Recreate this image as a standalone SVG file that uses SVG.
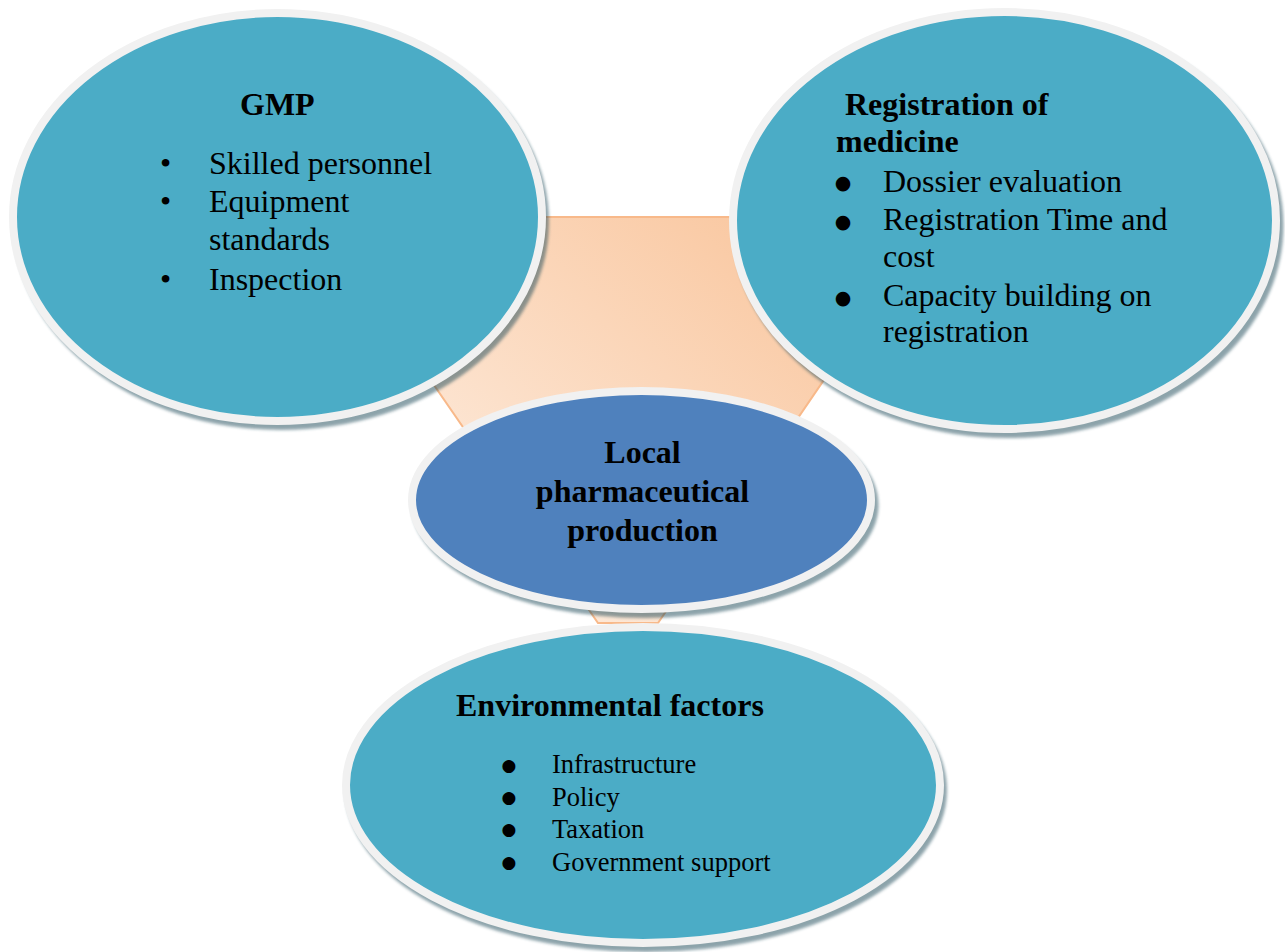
<svg xmlns="http://www.w3.org/2000/svg" width="1285" height="952" viewBox="0 0 1285 952">
  <defs>
    <linearGradient id="hexFill" x1="1" y1="0" x2="0" y2="1">
      <stop offset="0" stop-color="#F9C399"/>
      <stop offset="1" stop-color="#FEF2E8"/>
    </linearGradient>
    <filter id="soft" x="-5%" y="-5%" width="110%" height="110%">
      <feGaussianBlur stdDeviation="1.5"/>
    </filter>
  </defs>
  <style>
    .shadow { fill: #1F4A58; opacity: 0.5; filter: url(#soft); }
    .outer { fill: #4BACC6; stroke: #F1F1F1; stroke-width: 8; }
    .core { fill: #4F81BD; stroke: #F1F1F1; stroke-width: 8; }
    text { font-family: "Liberation Serif", "Times New Roman", serif; fill: #000; }
    .t32 { font-size: 32px; }
    .t26 { font-size: 26.5px; }
    .disc { font-family: "DejaVu Sans", sans-serif; text-anchor: middle; }
    .disc19 { font-size: 19px; }
    .disc17 { font-size: 17px; }
    .b { font-weight: bold; }
    .mid { text-anchor: middle; }
  </style>

  <!-- hexagonal backdrop behind the bubbles -->
  <g id="connectors">
    <polygon points="480,217 776,217 858,330 658,623 598,623 396,330" fill="url(#hexFill)" stroke="#F8B98A" stroke-width="2"/>
  </g>

  <g id="node-gmp">
    <ellipse class="shadow" cx="281" cy="222" rx="268" ry="208"/>
    <ellipse class="outer" cx="277.5" cy="217" rx="264.5" ry="204"/>
    <text class="t32 b" x="240" y="115">GMP</text>
    <text class="t32" x="160" y="174">•</text>
    <text class="t32" x="160" y="212">•</text>
    <text class="t32" x="160" y="290">•</text>
    <text class="t32" x="209" y="174">Skilled personnel</text>
    <text class="t32" x="209" y="212">Equipment</text>
    <text class="t32" x="209" y="250">standards</text>
    <text class="t32" x="209" y="290">Inspection</text>
  </g>

  <g id="node-registration">
    <ellipse class="shadow" cx="1008" cy="225.5" rx="275.5" ry="212.5"/>
    <ellipse class="outer" cx="1004.5" cy="220.5" rx="271.5" ry="208.5"/>
    <text class="t32 b" x="845" y="115">Registration of</text>
    <text class="t32 b" x="836" y="152">medicine</text>
    <text class="disc disc19" x="843" y="189">●</text>
    <text class="disc disc19" x="843" y="228">●</text>
    <text class="disc disc19" x="843" y="304">●</text>
    <text class="t32" x="883" y="192">Dossier evaluation</text>
    <text class="t32" x="883" y="230">Registration Time and</text>
    <text class="t32" x="883" y="267">cost</text>
    <text class="t32" x="883" y="306">Capacity building on</text>
    <text class="t32" x="883" y="342">registration</text>
  </g>

  <g id="node-environment">
    <ellipse class="shadow" cx="646" cy="790" rx="301" ry="162"/>
    <ellipse class="outer" cx="643" cy="785" rx="297" ry="158"/>
    <text class="t32 b" x="456" y="716">Environmental factors</text>
    <text class="disc disc17" x="509" y="770.5">●</text>
    <text class="disc disc17" x="509" y="802.5">●</text>
    <text class="disc disc17" x="509" y="835">●</text>
    <text class="disc disc17" x="509" y="867.5">●</text>
    <text class="t26" x="552" y="773">Infrastructure</text>
    <text class="t26" x="552" y="806">Policy</text>
    <text class="t26" x="552" y="838">Taxation</text>
    <text class="t26" x="552" y="871">Government support</text>
  </g>

  <g id="node-center">
    <ellipse class="shadow" cx="645" cy="505" rx="233.5" ry="113"/>
    <ellipse class="core" cx="641.5" cy="500" rx="229.5" ry="109"/>
    <text class="t32 b mid" x="642.5" y="463">Local</text>
    <text class="t32 b mid" x="642.5" y="502">pharmaceutical</text>
    <text class="t32 b mid" x="642.5" y="541">production</text>
  </g>
</svg>
